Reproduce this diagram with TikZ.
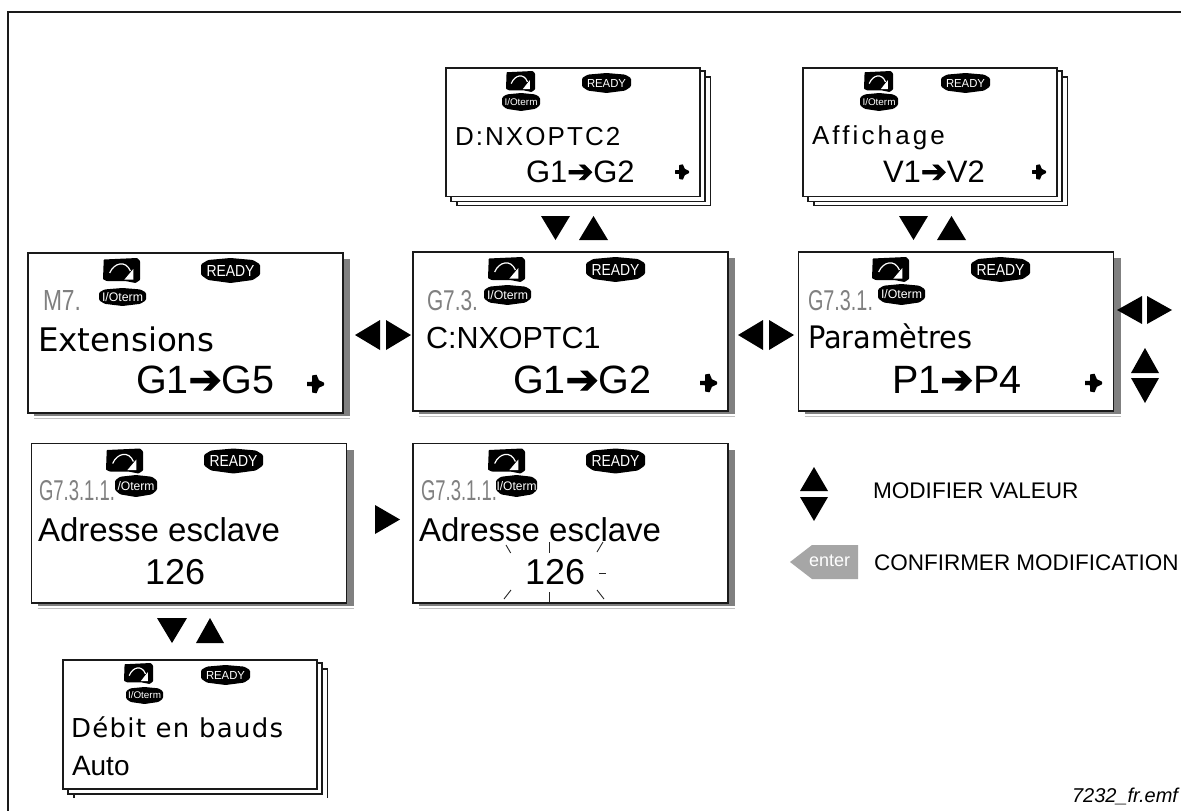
\documentclass[tikz,border=0pt]{standalone}
\usepackage{fontspec}
\setmainfont{Liberation Sans}
\newfontfamily\dv{DejaVu Sans}
\newfontfamily\dvb[FakeBold=2.5]{DejaVu Sans}
\definecolor{lcdline}{HTML}{1A1A1A}
\definecolor{shad}{HTML}{808080}
\definecolor{shadl}{HTML}{C0C0C0}
\definecolor{seg}{HTML}{808080}
\definecolor{entergray}{HTML}{A6A6A6}
\newcounter{nn}
\newcommand{\myfs}[1]{\fontsize{#1}{#1}\selectfont}
\tikzset{
  tx/.style={anchor=base west,inner sep=0pt,outer sep=0pt,text=black},
  lcdbox/.style={draw=lcdline,line width=1.4pt,fill=white},
  stackbox/.style={draw=lcdline,line width=1.2pt,fill=white},
  tinyray/.style={draw=black!85,line width=0.9pt}
}
% text at base-left
\newcommand{\tx}[4][]{\stepcounter{nn}\node[tx,#1] (t\arabic{nn}) at (#2,#3) {#4};}
% segment-display text: x y width height text
\newcommand{\segtx}[5]{\stepcounter{nn}\node[tx,text=seg] (t\arabic{nn}) at (#1,#2) {\resizebox{#3pt}{#4pt}{#5}};}
% triangles
\newcommand{\tridown}[4]{\fill[black] (#1,#3)--(#2,#3)--({(#1+#2)/2},#4)--cycle;}
\newcommand{\triup}[4]{\fill[black] (#1,#4)--(#2,#4)--({(#1+#2)/2},#3)--cycle;}
\newcommand{\trileft}[4]{\fill[black] (#1,{(#3+#4)/2})--(#2,#3)--(#2,#4)--cycle;}
\newcommand{\triright}[4]{\fill[black] (#2,{(#3+#4)/2})--(#1,#3)--(#1,#4)--cycle;}
% big box with shadow
\newcommand{\lcd}[4]{%
  \fill[shad] (#1+6,#2+6) rectangle (#3+7,#4+3);
  \draw[shadl,line width=1pt] (#1+6,#4+5.5)--(#3+7,#4+5.5);
  \draw[lcdbox] (#1,#2) rectangle (#3,#4);}
% stacked box; third sheet is left open at the bottom
\newcommand{\stk}[4]{%
  \fill[white] (#1+11,#2+9) rectangle (#3+10.5,#4+9);
  \draw[stackbox] (#1+11,#4+9)--(#1+11,#2+9)--(#3+10.5,#2+9)--(#3+10.5,#4+9);
  \draw[stackbox] (#1+5,#2+3) rectangle (#3+5,#4+5);
  \draw[stackbox] (#1,#2) rectangle (#3,#4);}
% curve icon x y w h
\newcommand{\curveicon}[4]{%
  \begin{scope}[shift={(#1,#2)},x=#3pt,y=-#4pt]
    \fill[black,rounded corners=0.6pt] (.02,.06)--(.92,0)--(1,.12)--(1,.88)--(.88,1)--(.6,.92)--(.1,.92)--(0,.85)--cycle;
    \draw[white,line width=1.2pt] (.18,.6) .. controls (.3,.18) and (.62,.08) .. (.74,.52);
    \fill[white] (.58,.86)--(.82,.86)--(.82,.44)--cycle;
  \end{scope}}
% pill x y w h, text width, text height, text
\newcommand{\pill}[7]{%
  \fill[black,rounded corners=1.2pt] (#1,#2+.25*#4)--(#1+.12*#3,#2+.08*#4)--(#1+.5*#3,#2)--(#1+.88*#3,#2+.08*#4)--(#1+#3,#2+.25*#4)--(#1+#3,#2+.68*#4)--(#1+.88*#3,#2+.88*#4)--(#1+.5*#3,#2+#4)--(#1+.12*#3,#2+.88*#4)--(#1,#2+.68*#4)--cycle;
  \stepcounter{nn}\node[inner sep=0pt,text=white] (t\arabic{nn}) at (#1+.5*#3,#2+.5*#4) {\resizebox{#5pt}{#6pt}{#7}};}
% small chunky arrow: x left, y centre, length
\newcommand{\chunk}[3]{%
  \begin{scope}[shift={(#1,#2)},x=#3pt,y=-#3pt]
    \fill[black,rounded corners=0.4pt] (0,-.13)--(.3,-.13)--(.3,-.5)--(.56,-.55)--(.7,-.22)--(1,-.08)--(1,.08)--(.7,.22)--(.56,.55)--(.3,.5)--(.3,.13)--(0,.13)--cycle;
  \end{scope}}
\newcommand{\arr}{{\dvb ➔}}
\begin{document}
\begin{tikzpicture}[x=1pt,y=-1pt]
\useasboundingbox (0,0) rectangle (1181,811);
\fill[white] (0,0) rectangle (1181,811);
\draw[lcdline,line width=1.4pt] (8,811)--(8,12)--(1181,12);

% ---- Extensions
\lcd{28}{253}{343}{413}
\curveicon{103}{258}{37}{25}
\pill{201}{258}{59}{25}{48}{11}{READY}
\pill{99}{288}{47}{18}{41}{9}{I/Oterm}
\segtx{43}{310}{38}{20}{M7.}
\tx{38}{351}{\dv\myfs{32.5}Extensions}
\tx{136}{393}{\myfs{39.5}G1\arr G5}
\chunk{307}{384}{17}

% ---- C:NXOPTC1
\lcd{413}{252}{728}{411}
\curveicon{488}{257}{37}{25}
\pill{586}{257}{59}{25}{48}{11}{READY}
\pill{484}{285}{47}{20}{41}{9}{I/Oterm}
\segtx{427}{310}{51}{20}{G7.3.}
\tx{426}{348}{\myfs{30.5}C:NXOPTC1}
\tx{513}{393}{\myfs{39.5}G1\arr G2}
\chunk{700}{383}{17}

% ---- Parametres
\lcd{798.5}{252}{1113.5}{411}
\curveicon{872}{257}{37}{25}
\pill{971}{257}{59}{25}{48}{11}{READY}
\pill{878}{284}{47}{21}{41}{9}{I/Oterm}
\segtx{808}{310}{65}{20}{G7.3.1.}
\tx{808}{348}{\dv\myfs{31}\scalebox{0.93}[1]{Paramètres}}
\tx{892}{393}{\myfs{39.5}P1\arr P4}
\chunk{1085}{383}{17}

% ---- Adresse 1
\lcd{31.5}{443.5}{346.5}{603}
\curveicon{106}{448.5}{37}{25}
\pill{204}{448.5}{59}{25}{48}{11}{READY}
\pill{115}{475}{42}{22}{37}{9}{/Oterm}
\segtx{39}{500}{76}{20}{G7.3.1.1.}
\tx{38}{541}{\myfs{33}Adresse esclave}
\tx{145}{584}{\myfs{36}126}

% ---- Adresse 2
\lcd{413}{443.5}{728}{603}
\curveicon{488}{448.5}{37}{25}
\pill{586}{448.5}{59}{25}{48}{11}{READY}
\pill{496}{475}{41}{22}{40}{9}{I/Oterm}
\segtx{421}{500}{76}{20}{G7.3.1.1.}
\tx{419}{541}{\myfs{33}Adresse esclave}
\tx{525}{584}{\myfs{36}126}
\draw[tinyray] (506,545)--(510.7,553);
\draw[tinyray] (549,542)--(549,553);
\draw[tinyray] (603,542)--(597,552);
\draw[tinyray] (599,573)--(606,573);
\draw[tinyray] (511,590)--(504,599);
\draw[tinyray] (549,592)--(549,602);
\draw[tinyray] (597,590)--(604,599);

% ---- D:NXOPTC2 stack
\stk{446}{68}{700}{196.5}
\draw[stackbox] (457,205.5)--(710.5,205.5);
\curveicon{506}{71}{29}{21}
\pill{582}{73}{49}{20}{39}{8}{READY}
\pill{502}{93}{38}{18}{33}{7}{I/Oterm}
\tx{455}{145}{\myfs{26}\addfontfeatures{LetterSpace=8}D:NXOPTC2}
\tx{526}{182}{\myfs{31}G1\arr G2}
\chunk{675}{172}{14}

% ---- Affichage stack
\stk{803}{68}{1057}{196.5}
\draw[stackbox] (814,205.5)--(1067.5,205.5);
\curveicon{864}{71}{29}{21}
\pill{941}{73}{49}{20}{39}{8}{READY}
\pill{860}{93}{38}{18}{33}{7}{I/Oterm}
\tx{812}{144}{\myfs{26}\addfontfeatures{LetterSpace=12}Affichage}
\tx{883}{182}{\myfs{31}V1\arr V2}
\chunk{1032}{172}{14}

% ---- Debit stack
\stk{63}{660}{317}{789}
\curveicon{124}{663}{29}{21}
\pill{201}{665}{49}{20}{39}{8}{READY}
\pill{126}{687}{37}{17}{33}{7}{I/Oterm}
\tx{71}{737}{\dv\myfs{26}\addfontfeatures{LetterSpace=5}Débit en bauds}
\tx{72}{775}{\myfs{28}Auto}

% ---- triangles
\trileft{355}{380}{320}{350}
\triright{386}{411}{320}{350}
\trileft{738}{763}{320}{350}
\triright{769}{794}{320}{350}
\trileft{1117}{1142}{296}{324}
\triright{1147}{1172}{296}{324}
\triup{1131}{1159}{348}{373}
\tridown{1131}{1159}{378}{403}
\tridown{541}{570}{216}{240}
\triup{579}{608}{216}{240}
\tridown{899}{928}{216}{240}
\triup{937}{966}{216}{240}
\tridown{157}{187}{618}{643}
\triup{196}{224}{618}{643}
\triright{375}{400}{505}{534}

% ---- legend
\triup{800}{828}{467}{491}
\tridown{800}{828}{497}{521}
\tx{873}{498}{\myfs{22.6}MODIFIER VALEUR}
\fill[entergray] (790,562)--(812,545)--(858,545)--(858,579)--(812,579)--cycle;
\tx[text=white]{809}{566}{\myfs{18}enter}
\tx{874}{570}{\myfs{22.5}CONFIRMER MODIFICATION}
\tx{1072}{802}{\myfs{20}\itshape 7232\_fr.emf}
\end{tikzpicture}
\end{document}
